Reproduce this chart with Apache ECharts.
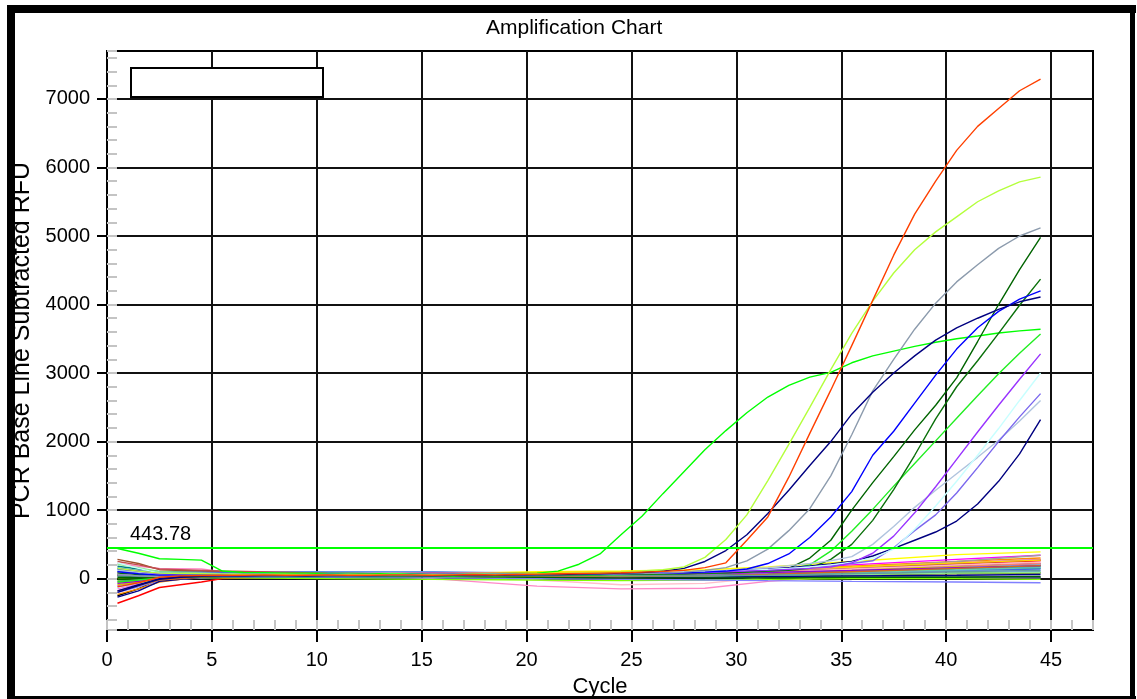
<!DOCTYPE html>
<html><head><meta charset="utf-8">
<script src="https://cdn.jsdelivr.net/npm/echarts@6/dist/echarts.min.js"></script>
<style>html,body{margin:0;padding:0;background:#fff}#c{width:1137px;height:699px}</style>
</head><body><div id="c"></div>
<script>
// ---- data ----
const TITLE = 'Amplification Chart';
const X_NAME = 'Cycle';
const Y_NAME = 'PCR Base Line Subtracted RFU';
const THRESHOLD = 443.78;
const X_TICKS = [0,5,10,15,20,25,30,35,40,45];
const Y_TICKS = [0,1000,2000,3000,4000,5000,6000,7000];

const CYCLES = [0.5,1.5,2.5,3.5,4.5,5.5,6.5,7.5,8.5,9.5,10.5,11.5,12.5,13.5,14.5,15.5,16.5,17.5,18.5,19.5,20.5,21.5,22.5,23.5,24.5,25.5,26.5,27.5,28.5,29.5,30.5,31.5,32.5,33.5,34.5,35.5,36.5,37.5,38.5,39.5,40.5,41.5,42.5,43.5,44.5];

// amplifying wells (one value per cycle)
const RFU_ORANGE = [-120,-60,20,40,45,50,50,55,50,50,55,50,50,55,55,50,55,60,55,60,65,70,75,80,85,95,105,120,160,230,560,900,1480,2120,2750,3400,4060,4720,5320,5800,6250,6600,6860,7120,7290];
const RFU_YELLOWGREEN = [150,110,80,75,70,65,60,60,60,55,55,60,60,55,55,60,60,65,60,65,70,75,80,85,95,110,130,170,310,570,930,1430,1960,2500,3050,3580,4050,4460,4800,5060,5280,5500,5660,5790,5860];
const RFU_SLATE = [60,40,30,35,40,40,45,45,40,45,45,40,45,50,45,50,50,45,50,55,55,60,60,65,70,75,80,95,120,160,260,430,700,1020,1500,2100,2740,3200,3640,4020,4330,4580,4820,5000,5120];
const RFU_NAVY_A = [-200,-100,0,30,35,40,40,45,45,40,45,50,45,50,50,45,50,55,50,55,60,60,65,70,80,90,110,150,250,410,640,950,1290,1650,2000,2400,2720,3000,3250,3480,3660,3800,3930,4040,4110];
const RFU_BLUE = [100,70,50,50,55,55,60,60,55,55,60,60,60,55,60,60,65,60,60,65,65,70,70,70,75,80,80,85,95,110,140,220,360,600,900,1270,1800,2150,2560,2970,3350,3660,3900,4080,4200];
const RFU_GREEN_A = [440,370,290,280,270,110,90,85,80,80,75,75,70,70,70,65,65,70,70,75,80,110,210,360,640,910,1240,1560,1880,2160,2420,2650,2820,2940,3010,3150,3250,3320,3390,3450,3500,3540,3585,3615,3640];
const RFU_DKGREEN_A = [20,20,30,35,40,40,40,45,45,40,40,45,45,40,45,45,50,45,50,50,55,55,60,60,65,65,70,70,80,90,100,120,150,300,560,1000,1400,1780,2170,2530,2930,3460,4000,4510,4980];
const RFU_DKGREEN_B = [80,60,40,40,45,45,50,50,50,45,50,50,55,50,55,55,50,55,60,60,60,65,65,70,70,75,75,80,85,90,100,110,120,150,280,500,850,1300,1800,2330,2800,3180,3580,3990,4370];
const RFU_GREEN_B = [-50,-20,10,20,25,30,30,30,35,30,35,35,30,35,40,40,35,40,40,45,45,50,50,55,55,60,65,70,75,85,95,110,140,200,400,690,1010,1350,1680,2010,2340,2670,2990,3290,3570];
const RFU_VIOLET = [150,110,70,60,60,55,55,55,50,50,55,55,50,55,55,60,60,55,60,60,65,65,70,70,75,80,80,85,90,100,110,120,135,150,170,230,370,620,960,1340,1740,2140,2530,2910,3280];
const RFU_LIGHTCYAN = [230,150,80,70,65,60,60,60,55,55,60,60,55,60,60,60,65,60,65,65,70,70,75,75,80,85,90,95,100,110,120,135,150,170,200,240,300,430,720,1060,1420,1800,2190,2600,3000];
const RFU_STEEL = [120,90,60,55,55,50,50,55,55,50,55,55,50,55,55,60,55,60,60,65,65,70,70,75,80,85,90,100,110,120,140,160,190,220,260,320,500,760,1040,1290,1530,1770,2020,2300,2600];
const RFU_SLATEBLUE = [60,40,30,35,35,40,40,40,45,45,40,45,45,50,50,45,50,50,55,55,60,60,65,70,75,80,85,90,100,110,120,135,150,170,190,220,260,450,700,930,1250,1620,2000,2360,2700];
const RFU_NAVY_B = [-180,-90,-10,20,30,35,35,40,40,40,45,45,40,45,45,50,50,45,50,55,55,60,60,65,70,75,80,90,100,110,125,140,160,185,215,250,330,440,560,680,840,1090,1420,1820,2320];

// non-amplifying wells (read at these cycles)
const BASE_CYCLES = [0.5,1.5,2.5,4.5,5.5,10.5,15.5,20.5,24.5,28.5,31.5,35.5,40.5,44.5];
const BL01 = [60,40,40,70,70,60,70,100,110,130,170,250,350,390];
const BL02 = [-100,-40,20,40,50,80,90,60,50,90,130,200,280,340];
const BL03 = [220,180,150,140,100,60,0,-110,-150,-140,-40,40,110,160];
const BL04 = [150,120,100,100,90,80,60,-20,-90,-70,20,120,200,260];
const BL05 = [40,30,40,50,60,80,90,70,60,70,90,130,180,220];
const BL06 = [-250,-150,0,20,20,30,40,30,20,10,10,20,20,20];
const BL07 = [280,220,130,110,100,70,50,40,40,60,90,140,220,280];
const BL08 = [-230,-150,-50,30,30,40,50,60,70,90,120,180,250,300];
const BL09 = [-360,-250,-130,-50,0,30,40,40,50,70,100,150,220,260];
const BL10 = [180,140,100,90,80,60,50,40,40,50,70,100,130,150];
const BL11 = [-120,-60,0,30,40,50,55,50,50,60,80,110,150,180];
const BL12 = [100,80,60,60,60,50,50,40,30,40,60,100,150,170];
const BL13 = [20,20,30,40,40,50,40,30,30,50,90,160,250,340];
const BL14 = [100,80,80,90,90,100,80,50,30,40,60,90,120,140];
const BL15 = [130,110,90,80,70,100,100,80,60,70,80,100,110,110];
const BL16 = [-30,-20,0,10,10,0,-10,-20,-30,-20,-10,0,0,-10];
const BL17 = [60,40,30,30,30,30,40,30,20,30,40,60,80,90];
const BL18 = [0,10,20,30,30,40,40,30,20,30,40,60,70,80];
const BL19 = [50,40,40,40,50,50,60,50,40,50,70,110,160,200];
const BL20 = [-60,-30,0,20,30,40,50,40,30,50,80,130,180,220];
const BL21 = [-150,-80,-20,20,30,50,60,50,40,60,100,160,230,280];
const BL22 = [-90,-50,-10,20,20,30,40,50,50,70,100,140,170,190];
const BL23 = [-40,-20,10,30,40,40,50,40,30,30,30,30,20,10];
const BL24 = [-200,-120,-30,10,20,20,10,0,-10,-20,-30,-40,-50,-60];
const BL25 = [210,160,100,80,70,50,40,30,20,30,40,60,80,90];
const BL26 = [-270,-180,-40,20,30,40,40,30,20,20,30,40,50,60];
const BL27 = [250,200,140,120,110,80,60,50,40,60,90,150,220,270];
const BL28 = [30,30,40,50,50,60,60,50,40,50,70,110,160,200];
const BL29 = [90,70,60,60,60,70,80,90,100,110,130,170,230,270];
const BL30 = [160,120,80,70,60,50,50,40,30,40,60,90,130,160];
const BL31 = [-10,0,10,20,30,30,30,20,10,10,10,20,20,30];
const BL32 = [140,110,80,70,70,60,60,50,40,50,70,110,150,180];
const BL33 = [70,60,50,60,60,70,80,70,60,70,90,140,200,240];
const BL34 = [-70,-40,0,30,40,60,80,70,60,70,90,120,160,190];
const BL35 = [-180,-100,-20,20,30,40,50,40,30,40,60,100,150,190];
const BL36 = [40,40,50,60,60,60,60,50,40,40,50,70,100,120];

const BASELINES = [BL01,BL02,BL03,BL04,BL05,BL06,BL07,BL08,BL09,BL10,BL11,BL12,BL13,BL14,BL15,BL16,BL17,BL18,BL19,BL20,BL21,BL22,BL23,BL24,BL25,BL26,BL27,BL28,BL29,BL30,BL31,BL32,BL33,BL34,BL35,BL36];
const AMPLIFIED = [RFU_GREEN_A,RFU_GREEN_B,RFU_DKGREEN_B,RFU_DKGREEN_A,RFU_NAVY_B,RFU_STEEL,RFU_SLATEBLUE,RFU_LIGHTCYAN,RFU_VIOLET,RFU_BLUE,RFU_SLATE,RFU_NAVY_A,RFU_YELLOWGREEN,RFU_ORANGE];

// ---- styles ----
const BASE_COLORS = ['#ffff00','#ff00ff','#ff88c8','#ffc0cb','#800080','#000000','#a0522d','#ff8c00','#ff0000','#008080','#00ffff','#40e0d0','#a0a0a0','#4169e1','#6495ed','#80ff00','#008000','#808000','#800000','#fa8072','#ee82ee','#cccc00','#6a5acd','#8080ff','#90ee90','#00008b','#c0504d','#87ceeb','#ffd700','#66cdaa','#006400','#4682b4','#ffb6c1','#9400d3','#d2691e','#5f9ea0'];
const AMP_COLORS = ['#00ff00','#22ee22','#0a700a','#006400','#000080','#b0c4de','#7b68ee','#c8ffff','#9933ff','#0000ff','#8c9bad','#000080','#b4ff3c','#ff4000'];

const FONT = 'Liberation Sans, Arial, sans-serif';
const series = [];
BASELINES.forEach((vals, i) => {
  series.push({type:'line', xAxisIndex:0, yAxisIndex:0, symbol:'none', silent:true, z:2,
    lineStyle:{color:BASE_COLORS[i], width:1.4},
    data: BASE_CYCLES.map((c, j) => [c, vals[j]])});
});
AMPLIFIED.forEach((vals, i) => {
  series.push({type:'line', xAxisIndex:0, yAxisIndex:0, symbol:'none', silent:true, z:3,
    lineStyle:{color:AMP_COLORS[i], width:1.4},
    data: CYCLES.map((c, j) => [c, vals[j]])});
});
series.push({type:'line', xAxisIndex:0, yAxisIndex:0, data:[], z:4,
  markLine:{silent:true, symbol:'none', animation:false,
    lineStyle:{color:'#00ff00', width:2, type:'solid'},
    label:{show:true, position:'insideStartTop', distance:[23,4], formatter: String(THRESHOLD),
      color:'#000', fontFamily:FONT, fontSize:20},
    data:[{yAxis:THRESHOLD}]}});

const chart = echarts.init(document.getElementById('c'), null, {renderer:'canvas'});
chart.setOption({
  animation:false,
  backgroundColor:'#fff',
  title:{text:TITLE, left:481, top:13, textStyle:{fontFamily:FONT, fontSize:21, fontWeight:'normal', color:'#000'}},
  grid:{left:107, top:51, right:44, bottom:69, show:true, borderColor:'#000', borderWidth:2, backgroundColor:'#fff',
    containLabel:false, outerBoundsMode:'none'},
  xAxis:[{
    type:'value', min:0, max:47, minInterval:5, maxInterval:5, position:'bottom',
    name:X_NAME, nameLocation:'middle', nameGap:46,
    nameTextStyle:{fontFamily:FONT, fontSize:22, color:'#000'},
    axisLine:{onZero:false, lineStyle:{color:'#000', width:2}},
    axisTick:{inside:false, length:12, customValues:X_TICKS, lineStyle:{color:'#000', width:2}},
    axisLabel:{margin:20, fontFamily:FONT, fontSize:20, color:'#000', customValues:X_TICKS,
      formatter:v => (v % 5 === 0 ? String(v) : '')},
    splitLine:{show:true, lineStyle:{color:'#111', width:2}}
  },{
    type:'value', min:0, max:47, minInterval:1, maxInterval:1, position:'bottom',
    axisLine:{show:false, onZero:false}, axisLabel:{show:false}, splitLine:{show:false},
    axisTick:{inside:true, length:10, lineStyle:{color:'#c4c4c4', width:2}}
  }],
  yAxis:[{
    type:'value', min:-750, max:7700, minInterval:1000, maxInterval:1000, position:'left',
    name:Y_NAME, nameLocation:'middle', nameGap:65,
    nameTextStyle:{fontFamily:FONT, fontSize:25, color:'#000'},
    axisLine:{onZero:false, lineStyle:{color:'#000', width:2}},
    axisTick:{inside:false, length:10, customValues:Y_TICKS, lineStyle:{color:'#000', width:2}},
    axisLabel:{margin:17, fontFamily:FONT, fontSize:20, color:'#000', customValues:Y_TICKS,
      formatter:v => (v % 1000 === 0 ? String(v) : '')},
    splitLine:{show:true, lineStyle:{color:'#111', width:2}}
  },{
    type:'value', min:-750, max:7700, minInterval:200, maxInterval:200, position:'left',
    axisLine:{show:false, onZero:false}, axisLabel:{show:false}, splitLine:{show:false},
    axisTick:{inside:true, length:10, lineStyle:{color:'#c4c4c4', width:2}}
  }],
  graphic:[
    {type:'rect', z:100, shape:{x:7, y:5, width:8, height:694}, style:{fill:'#000'}},
    {type:'rect', z:100, shape:{x:7, y:5, width:1129, height:8}, style:{fill:'#000'}},
    {type:'rect', z:100, shape:{x:1130, y:5, width:5, height:694}, style:{fill:'#000'}},
    {type:'rect', z:100, shape:{x:7, y:696, width:1129, height:3}, style:{fill:'#000'}},
    {type:'rect', z:100, shape:{x:131, y:68, width:192, height:29}, style:{fill:'#fff', stroke:'#000', lineWidth:2}}
  ],
  series: series
});
</script></body></html>
